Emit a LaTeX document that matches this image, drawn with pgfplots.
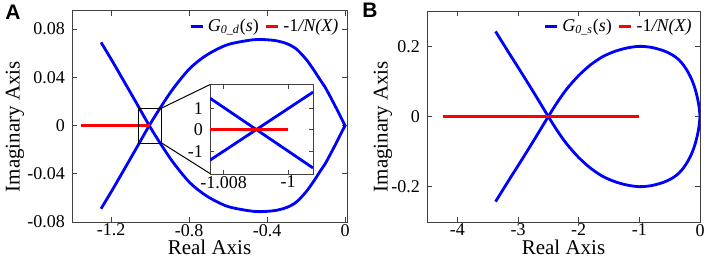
\documentclass[border=0pt]{standalone}
\usepackage{pgfplots}
\pgfplotsset{compat=1.18}
\usepackage{fontspec}
\setmainfont{Liberation Serif}
\newfontfamily\arialfont{Liberation Sans}
\definecolor{mblue}{rgb}{0,0,1}
\definecolor{mred}{rgb}{1,0,0}
\definecolor{axgray}{rgb}{0.25,0.25,0.25}
\pgfplotsset{
  myaxis/.style={
    scale only axis,
    anchor=south west,
    axis line style={axgray, line width=0.5pt},
    tick style={axgray, line width=0.5pt},
    tick align=inside,
    major tick length=2.5pt,
    tick label style={font=\rmfamily\fontsize{9}{10}\selectfont},
    xticklabel style={yshift=2.5pt},
    label style={font=\rmfamily\fontsize{10.5}{11}\selectfont},
    /pgf/number format/assume math mode=true,
    scaled ticks=false,
    legend image code/.code={\draw[#1,line width=1.3pt] (0pt,0pt)--(6pt,0pt);},
    legend style={draw=none, fill=none, font=\rmfamily\fontsize{9}{10}\selectfont,
      inner sep=0pt, legend cell align=left,
      /tikz/every even column/.append style={column sep=1pt}},
    legend columns=-1,
  },
  curve/.style={mblue, line width=1.4pt, smooth, tension=0.5},
}
\begin{document}
\begin{tikzpicture}
\useasboundingbox (0,0) rectangle (353pt,-128.5pt);
% ---------------- Panel A ----------------
\begin{axis}[myaxis,
  at={(36pt,-111pt)}, width=137.5pt, height=105.5pt,
  xmin=-1.4, xmax=0.01, ymin=-0.08, ymax=0.095,
  xtick={-1.2,-0.8,-0.4,0},
  xticklabels={-1.2,-0.8,-0.4,0},
  ytick={-0.08,-0.04,0,0.04,0.08},
  yticklabels={-0.08,-0.04,0,0.04,0.08},
  xlabel={Real Axis}, ylabel={Imaginary Axis},
  xlabel style={at={([yshift=-12.5pt]rel axis cs:0.5,0)}, anchor=center},
  ylabel style={at={([xshift=-28.5pt]rel axis cs:0,0.452)}, anchor=center},
  legend style={at={(rel axis cs:0.985,0.985)}, anchor=north east},
]
\addplot[curve] coordinates {
 (-1.251,0.069) (-1.19,0.0525) (-1.13,0.0357) (-1.07,0.0188) (-1.0039,0)
 (-0.949,-0.0143) (-0.88,-0.0309) (-0.795,-0.0475) (-0.709,-0.0585) (-0.607,-0.0668)
 (-0.5,-0.0705) (-0.436,-0.0714) (-0.36,-0.0705) (-0.3,-0.068) (-0.25,-0.0635)
 (-0.2,-0.055) (-0.16,-0.046) (-0.128,-0.038) (-0.1,-0.0312) (-0.077,-0.0243)
 (-0.05,-0.016) (-0.034,-0.0109) (0,0)};
\addlegendentry{\textit{G}\textsubscript{\textit{0\_d}}(\textit{s})}
\addplot[curve, forget plot] coordinates {
 (-1.251,-0.069) (-1.19,-0.0525) (-1.13,-0.0357) (-1.07,-0.0188) (-1.0039,0)
 (-0.949,0.0143) (-0.88,0.0309) (-0.795,0.0475) (-0.709,0.0585) (-0.607,0.0668)
 (-0.5,0.0705) (-0.436,0.0714) (-0.36,0.0705) (-0.3,0.068) (-0.25,0.0635)
 (-0.2,0.055) (-0.16,0.046) (-0.128,0.038) (-0.1,0.0312) (-0.077,0.0243)
 (-0.05,0.016) (-0.034,0.0109) (0,0)};
\addplot[mred, line width=1.4pt] coordinates {(-1.354,0) (-1.0,0)};
\addlegendentry{-1\textit{/N(X)}}
\draw[black, line width=0.5pt] (axis cs:-1.060,0.0145) rectangle (axis cs:-0.940,-0.0145);
\draw[black, line width=0.5pt] (axis cs:-0.940,0.0145) -- (axis cs:-0.692,0.034);
\draw[black, line width=0.5pt] (axis cs:-0.940,-0.0145) -- (axis cs:-0.692,-0.0398);
\end{axis}
% ---------------- Inset ----------------
\begin{axis}[myaxis,
  at={(105pt,-87pt)}, width=51.5pt, height=44.5pt,
  axis background/.style={fill=white},
  xmin=-1.0097, xmax=-0.9969, ymin=-0.00205, ymax=0.00207,
  xtick={-1.008,-1}, xticklabels={-1.008,-1},
  ytick={-0.001,0,0.001}, yticklabels={-1,0,1},
  major tick length=2pt,
]
\addplot[mblue, line width=1.4pt] coordinates {(-1.0097,0.00146) (-0.9969,-0.00177)};
\addplot[mblue, line width=1.4pt] coordinates {(-1.0097,-0.00141) (-0.9969,0.00174)};
\addplot[mred, line width=1.4pt] coordinates {(-1.0097,0) (-1.0,0)};
\node[anchor=south west, inner sep=0pt, font=\rmfamily\fontsize{9}{10}\selectfont]
  at ([xshift=-3.5pt,yshift=0.5pt]rel axis cs:0,1) {\textcolor{gray}{×}10\textsuperscript{-3}};
\end{axis}
% ---------------- Panel B ----------------
\begin{axis}[myaxis,
  at={(213.5pt,-111pt)}, width=136.5pt, height=105.5pt,
  xmin=-4.5, xmax=0, ymin=-0.3, ymax=0.3,
  xtick={-4,-3,-2,-1,0},
  xticklabels={-4,-3,-2,-1,0},
  ytick={-0.2,0,0.2},
  yticklabels={-0.2,0,0.2},
  xlabel={Real Axis}, ylabel={Imaginary Axis},
  xlabel style={at={([yshift=-12.5pt]rel axis cs:0.5,0)}, anchor=center},
  ylabel style={at={([xshift=-22pt]rel axis cs:0,0.452)}, anchor=center},
  legend style={at={(rel axis cs:0.985,0.985)}, anchor=north east},
]
\addplot[curve] coordinates {
 (-3.37,0.242) (-3.15,0.181) (-2.93,0.121) (-2.71,0.0596) (-2.5,0)
 (-2.35,-0.041) (-2.195,-0.0785) (-2.0,-0.1165) (-1.8,-0.1475) (-1.6,-0.1705)
 (-1.4,-0.1855) (-1.2,-0.195) (-1.0,-0.1995) (-0.8,-0.1965) (-0.6,-0.187)
 (-0.45,-0.1745) (-0.35,-0.1615) (-0.265,-0.1445) (-0.19,-0.124) (-0.13,-0.1025)
 (-0.08,-0.078) (-0.04,-0.051) (-0.015,-0.027) (0,0)};
\addlegendentry{\textit{G}\textsubscript{\textit{0\_s}}(\textit{s})}
\addplot[curve, forget plot] coordinates {
 (-3.37,-0.242) (-3.15,-0.181) (-2.93,-0.121) (-2.71,-0.0596) (-2.5,0)
 (-2.35,0.041) (-2.195,0.0785) (-2.0,0.1165) (-1.8,0.1475) (-1.6,0.1705)
 (-1.4,0.1855) (-1.2,0.195) (-1.0,0.1995) (-0.8,0.1965) (-0.6,0.187)
 (-0.45,0.1745) (-0.35,0.1615) (-0.265,0.1445) (-0.19,0.124) (-0.13,0.1025)
 (-0.08,0.078) (-0.04,0.051) (-0.015,0.027) (0,0)};
\addplot[mred, line width=1.4pt] coordinates {(-4.23,0) (-1.0,0)};
\addlegendentry{-1\textit{/N(X)}}
\end{axis}
% panel labels
\node[font=\arialfont\bfseries\fontsize{10.5}{11}\selectfont, inner sep=0pt] at (6.5pt,-6pt) {A};
\node[font=\arialfont\bfseries\fontsize{10.5}{11}\selectfont, inner sep=0pt] at (185pt,-5pt) {B};
\end{tikzpicture}
\end{document}
